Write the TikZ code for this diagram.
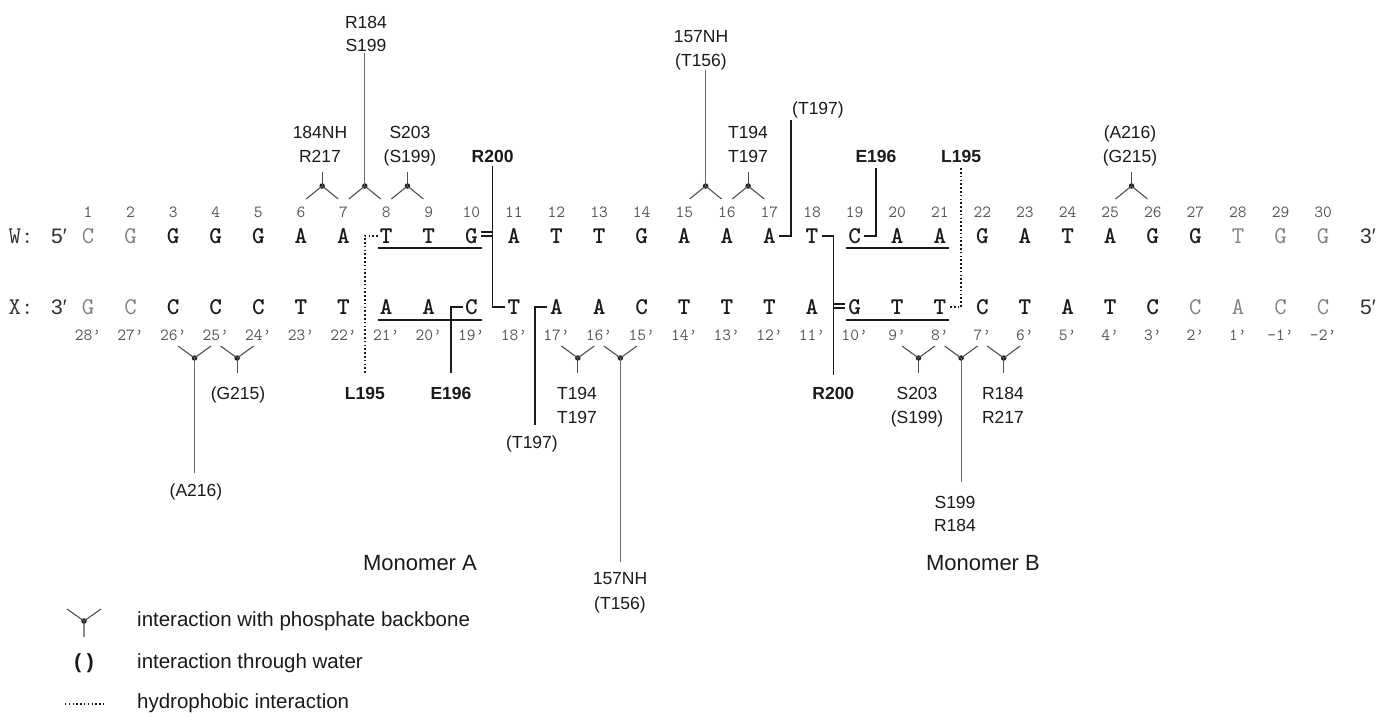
\documentclass[tikz,border=0pt]{standalone}
\usepackage{fontspec}
\setmainfont{Liberation Sans}
\definecolor{seqgray}{HTML}{808080}
\definecolor{numgray}{HTML}{555555}
\definecolor{ink}{HTML}{1A1A1A}
\definecolor{phgray}{HTML}{505050}
\definecolor{lngray}{HTML}{6A6A6A}
\tikzset{
  seqk/.style={font=\ttfamily\bfseries\fontsize{24}{24}\selectfont\addfontfeature{FakeBold=1.6}, text=ink, inner sep=0pt},
  seqg/.style={font=\ttfamily\fontsize{24}{24}\selectfont\addfontfeature{FakeBold=0.6}, text=seqgray, inner sep=0pt},
  numb/.style={font=\ttfamily\fontsize{17}{17}\selectfont, text=numgray, inner sep=0pt, text height=10pt, text depth=0pt},
  lab/.style={font=\fontsize{17.5}{18}\selectfont, text=ink, inner sep=0pt, text height=12.5pt, text depth=0pt},
  blab/.style={font=\bfseries\fontsize{17.5}{18}\selectfont, text=ink, inner sep=0pt, text height=12.5pt, text depth=0pt},
  endlab/.style={inner sep=0pt, text=ink!90},
  conn/.style={draw=ink, line width=1.5pt},
  eqline/.style={draw=ink, line width=1.1pt},
  hyd/.style={draw=ink, line width=1.5pt, dash pattern=on 1.6pt off 2.2pt},
  pharm/.style={draw=phgray, line width=1.1pt},
  phlong/.style={draw=lngray, line width=1.1pt},
  phdot/.style={circle, fill=ink, inner sep=0pt, minimum size=5.5pt},
  uline/.style={draw=ink, line width=1.5pt},
  leg/.style={font=\fontsize{20.5}{22}\selectfont, text=ink, inner sep=0pt, anchor=west},
  mono/.style={font=\fontsize{22}{24}\selectfont, text=ink, inner sep=0pt},
}
\newcommand\phT[2]{\node[phdot] (#2) at (#1,186) {};
  \draw[pharm] (#2.center) -- ++(-16,13) (#2.center) -- ++(16,13);}
\newcommand\phB[2]{\node[phdot] (#2) at (#1,358) {};
  \draw[pharm] (#2.center) -- ++(-16.5,-12) (#2.center) -- ++(16.5,-12);}
\begin{document}
\begin{tikzpicture}[x=1pt,y=-1pt]
\useasboundingbox[fill=white] (0,0) rectangle (1378,723);

% strand labels
\node[endlab, font=\ttfamily\fontsize{24}{24}\selectfont] (wlab) at (21,236) {W:};
\node[endlab, font=\fontsize{21}{22}\selectfont] (w5) at (59,236) {5′};
\node[endlab, font=\fontsize{21}{22}\selectfont] (w3) at (1368,236) {3′};
\node[endlab, font=\ttfamily\fontsize{24}{24}\selectfont] (xlab) at (21,307) {X:};
\node[endlab, font=\fontsize{21}{22}\selectfont] (x3) at (59,307) {3′};
\node[endlab, font=\fontsize{21}{22}\selectfont] (x5) at (1368,307) {5′};

% top strand
\foreach \s/\c [count=\i] in {C/seqg,G/seqg,G/seqk,G/seqk,G/seqk,A/seqk,A/seqk,T/seqk,T/seqk,G/seqk,A/seqk,T/seqk,T/seqk,G/seqk,A/seqk,A/seqk,A/seqk,T/seqk,C/seqk,A/seqk,A/seqk,G/seqk,A/seqk,T/seqk,A/seqk,G/seqk,G/seqk,T/seqg,G/seqg,G/seqg}
  {\node[\c] (t\i) at ({45.41+42.59*\i},236) {\s};
   \node[numb] (tn\i) at ({45.41+42.59*\i},212) {\i};}
% bottom strand
\foreach \s/\c [count=\i] in {G/seqg,C/seqg,C/seqk,C/seqk,C/seqk,T/seqk,T/seqk,A/seqk,A/seqk,C/seqk,T/seqk,A/seqk,A/seqk,C/seqk,T/seqk,T/seqk,T/seqk,A/seqk,G/seqk,T/seqk,T/seqk,C/seqk,T/seqk,A/seqk,T/seqk,C/seqk,C/seqg,A/seqg,C/seqg,C/seqg}
  {\node[\c] (b\i) at ({45.41+42.59*\i},307) {\s};}
\foreach \n [count=\i] in {28,27,26,25,24,23,22,21,20,19,18,17,16,15,14,13,12,11,10,9,8,7,6,5,4,3,2,1,-1,-2}
  {\node[numb] (bn\i) at ({45.41+42.59*\i},335) {\n’};}

% underlines (protected regions)
\draw[uline] ([xshift=-2pt]t8.west |- 0,248) -- ([xshift=4pt]t10.east |- 0,248);
\draw[uline] ([xshift=-2pt]t19.west |- 0,248) -- ([xshift=3pt]t21.east |- 0,248);
\draw[uline] ([xshift=-2pt]b8.west |- 0,320) -- ([xshift=4pt]b10.east |- 0,320);
\draw[uline] ([xshift=-2pt]b19.west |- 0,320) -- ([xshift=3pt]b21.east |- 0,320);

% ---- top phosphate contacts
\phT{322.2}{pa}
\node[lab] (pa1) at (320,132) {184NH};
\node[lab] (pa2) at (320,156) {R217};
\draw[pharm, shorten >=9.75pt] (pa.center) -- (pa.center |- pa2.south);

\phT{364.8}{pb}
\node[lab] (pb1) at (366,22) {R184};
\node[lab] (pb2) at (366,45) {S199};
\draw[phlong, shorten >=1.75pt] (pb.center) -- (pb.center |- pb2.south);

\phT{407.4}{pc}
\node[lab] (pc1) at (410,132) {S203};
\node[lab] (pc2) at (410,156) {(S199)};
\draw[pharm, shorten >=9.75pt] (pc.center) -- (pc.center |- pc2.south);

\phT{705.6}{pd}
\node[lab] (pd1) at (701,36) {157NH};
\node[lab] (pd2) at (701,60) {(T156)};
\draw[phlong, shorten >=3.75pt] (pd.center) -- (pd.center |- pd2.south);

\phT{748.2}{pe}
\node[lab] (pe1) at (748,132) {T194};
\node[lab] (pe2) at (748,156) {T197};
\draw[pharm, shorten >=9.75pt] (pe.center) -- (pe.center |- pe2.south);

\phT{1131.5}{pf}
\node[lab] (pf1) at (1130,132) {(A216)};
\node[lab] (pf2) at (1130,156) {(G215)};
\draw[pharm, shorten >=9.75pt] (pf.center) -- (pf.center |- pf2.south);

% ---- bottom phosphate contacts
\phB{194.5}{qa}
\node[lab] (qa1) at (196,490) {(A216)};
\draw[phlong, shorten >=10.75pt] (qa.center) -- (qa.center |- qa1.north);

\phB{237.1}{qb}
\node[lab] (qb1) at (238,393) {(G215)};
\draw[pharm, shorten >=13.75pt] (qb.center) -- (qb.center |- qb1.north);

\phB{577.8}{qc}
\node[lab] (qc1) at (577,393) {T194};
\node[lab] (qc2) at (577,417) {T197};
\draw[pharm, shorten >=13.75pt] (qc.center) -- (qc.center |- qc1.north);

\phB{620.4}{qd}
\node[lab] (qd1) at (620,578) {157NH};
\node[lab] (qd2) at (620,603) {(T156)};
\draw[phlong, shorten >=9.75pt] (qd.center) -- (qd.center |- qd1.north);

\phB{918.5}{qe}
\node[lab] (qe1) at (917,393) {S203};
\node[lab] (qe2) at (917,417) {(S199)};
\draw[pharm, shorten >=13.75pt] (qe.center) -- (qe.center |- qe1.north);

\phB{961.1}{qf}
\node[lab] (qf1) at (955,502) {S199};
\node[lab] (qf2) at (955,525) {R184};
\draw[phlong, shorten >=13.75pt] (qf.center) -- (qf.center |- qf1.north);

\phB{1003.7}{qg}
\node[lab] (qg1) at (1003,393) {R184};
\node[lab] (qg2) at (1003,417) {R217};
\draw[pharm, shorten >=13.75pt] (qg.center) -- (qg.center |- qg1.north);

% ---- R200 contacts
\node[blab] (rL) at (492.6,156) {R200};
\draw[conn, shorten <=3.75pt] (rL.south) -- (rL.south |- b11.west) -- ([xshift=-2pt]b11.west);
\draw[eqline] ([xshift=3pt,yshift=4pt]t10.east) -- ([yshift=4pt]t10.east -| rL.south);
\draw[eqline] ([xshift=3pt]t10.east) -- (t10.east -| rL.south);

\node[blab] (rR) at (833.3,393) {R200};
\draw[conn, shorten <=11.75pt] (rR.north) -- (rR.north |- t18.east) -- ([xshift=3pt]t18.east);
\draw[eqline] ([xshift=-3pt,yshift=3pt]b19.west) -- ([yshift=3pt]b19.west -| rR.north);
\draw[eqline] ([xshift=-3pt,yshift=-1pt]b19.west) -- ([yshift=-1pt]b19.west -| rR.north);

% ---- E196 contacts
\node[blab] (eL) at (451,393) {E196};
\draw[conn, shorten <=13.75pt] (eL.north) -- (eL.north |- b10.west) -- ([xshift=-2pt]b10.west);

\node[blab] (eR) at (876,156) {E196};
\draw[conn, shorten <=5.75pt] (eR.south) -- (eR.south |- t19.east) -- ([xshift=3pt]t19.east);

% ---- L195 hydrophobic contacts
\node[blab] (lL) at (364.8,393) {L195};
\draw[hyd, shorten <=13.75pt] (lL.north) -- (lL.north |- t8.west) -- ([xshift=-2pt]t8.west);

\node[blab] (lR) at (961.1,156) {L195};
\draw[hyd, shorten <=5.75pt] (lR.south) -- (lR.south |- b21.east) -- ([xshift=3pt]b21.east);

% ---- T197 water contacts
\node[lab] (tT) at (818,108) {(T197)};
\coordinate (tTs) at (790.8,120);
\draw[conn] (tTs) -- (tTs |- t17.east) -- ([xshift=3pt]t17.east);

\node[lab] (tB) at (532,442) {(T197)};
\coordinate (tBs) at (535.2,425);
\draw[conn] (tBs) -- (tBs |- b12.west) -- ([xshift=-3pt]b12.west);

% monomer labels
\node[mono] (monA) at (420,563) {Monomer A};
\node[mono] (monB) at (983,563) {Monomer B};

% legend
\node[phdot] (lgdot) at (84,621) {};
\draw[pharm] (lgdot.center) -- ++(-17,-12) (lgdot.center) -- ++(17,-12) (lgdot.center) -- ++(0,16);
\node[leg] (lg1) at (137,621) {interaction with phosphate backbone};
\node[font=\bfseries\fontsize{20.5}{22}\selectfont, text=ink, inner sep=0pt] (lgpar) at (84,663) {( )};
\node[leg] (lg2) at (137,663) {interaction through water};
\coordinate (lgh1) at (65,704);
\coordinate (lgh2) at (105,704);
\draw[draw=ink, line width=1.3pt, dash pattern=on 1.4pt off 2.4pt] (lgh1) -- (lgh2);
\node[leg] (lg3) at (137,703) {hydrophobic interaction};
\end{tikzpicture}
\end{document}
